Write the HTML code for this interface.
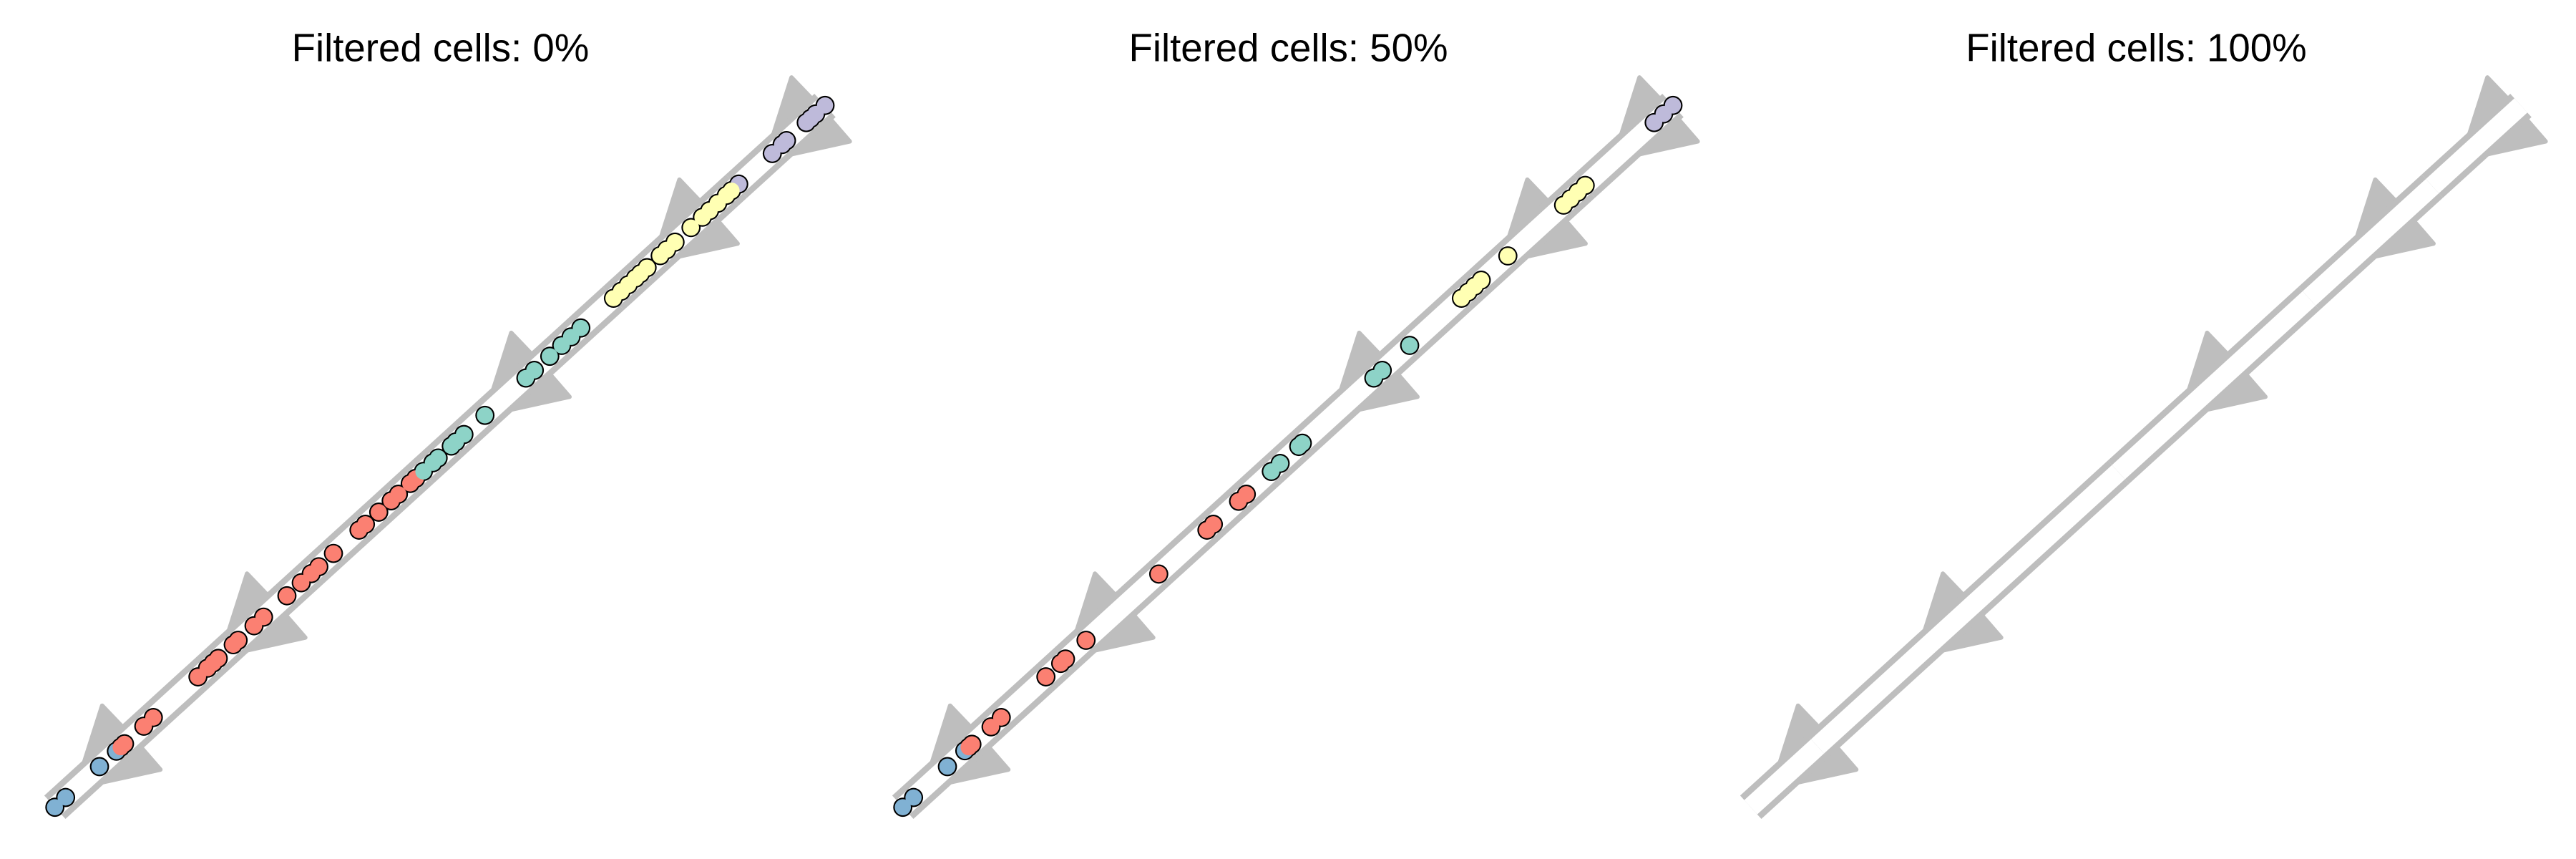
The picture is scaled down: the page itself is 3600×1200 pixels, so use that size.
<!DOCTYPE html>
<html lang="en">
<head>
<meta charset="utf-8">
<title>Filtered cells trajectory panels</title>
<style>
html,body{margin:0;padding:0;background:#fff;}
svg{display:block;}
text{font-family:"Liberation Sans",Arial,sans-serif;font-size:54.6px;fill:#000;text-anchor:middle;}
</style>
</head>
<body>
<svg id="chart" xmlns="http://www.w3.org/2000/svg" width="3600" height="1200" viewBox="0 0 3600 1200">
  <rect x="0" y="0" width="3600" height="1200" fill="#ffffff"/>
  <g id="panel-0"></g>
  <g id="panel-1"></g>
  <g id="panel-2"></g>
  <text x="615.5" y="85.7">Filtered cells: 0%</text>
  <text x="1800.5" y="85.7">Filtered cells: 50%</text>
  <text x="2985.5" y="85.7">Filtered cells: 100%</text>
</svg>
<script>
// Pseudotime (0-100) of each cell, by panel and milestone group
const panel0Blue = [0, 1.39, 5.79, 7.99];
const panel0Purple = [88.79, 93.15, 94.43, 94.99, 97.56, 98.14, 98.79, 100];
const panel0Red = [8.55, 9.04, 11.55, 12.78, 18.58, 19.82, 20.56, 21.21, 23.16, 23.79, 25.86, 27.09, 30.13, 31.99, 33.29, 34.27, 36.17, 39.49, 40.32, 42.05, 43.67, 44.6, 46.14, 46.86];
const panel0Teal = [47.85, 49.08, 49.76, 51.47, 52.06, 53.11, 55.84, 61.16, 62.25, 64.26, 65.81, 67.02, 68.29];
const panel0Yellow = [72.53, 73.52, 74.45, 75.38, 76.03, 76.89, 78.6, 79.44, 80.52, 82.6, 84.08, 85.01, 86.06, 87.18, 87.86];

const panel1Blue = [0, 1.39, 5.79, 8.05];
const panel1Purple = [97.56, 98.79, 100];
const panel1Red = [8.55, 8.97, 11.46, 12.78, 18.58, 20.5, 21.12, 23.79, 33.23, 39.49, 40.32, 43.6, 44.6];
const panel1Teal = [47.85, 48.99, 51.41, 51.87, 61.16, 62.25, 65.81];
const panel1Yellow = [72.53, 73.4, 74.25, 75.1, 78.56, 85.8, 86.71, 87.64, 88.6];

const panel2Blue = [];
const panel2Purple = [];
const panel2Red = [];
const panel2Teal = [];
const panel2Yellow = [];

// Trajectory structure, in pseudotime
const edgeBreaks = [0, 8.67, 47.75, 72.5, 88.5, 100];
const arrowTimes = [10.06, 28.87, 63.18, 85.01, 99.57];

const groupNames = ['blue', 'purple', 'red', 'teal', 'yellow'];
const groupColors = ['#80B1D3', '#BEBADA', '#FB8072', '#8DD3C7', '#FFFFB3'];
const panelCells = [
  [panel0Blue, panel0Purple, panel0Red, panel0Teal, panel0Yellow],
  [panel1Blue, panel1Purple, panel1Red, panel1Teal, panel1Yellow],
  [panel2Blue, panel2Purple, panel2Red, panel2Teal, panel2Yellow]
];

const SVG_NS = 'http://www.w3.org/2000/svg';
const PANEL_STEP = 1185;
const START_X = 76.7, START_Y = 1127.7, END_X = 1153, END_Y = 147.3;
const LENGTH = Math.hypot(END_X - START_X, END_Y - START_Y);
const UX = (END_X - START_X) / LENGTH, UY = (END_Y - START_Y) / LENGTH;
const NX = -UY, NY = UX;

function xAxis(t, panel) {
  return START_X + (END_X - START_X) * t / 100 + panel * PANEL_STEP;
}
function yAxis(t) {
  return START_Y + (END_Y - START_Y) * t / 100;
}
function arrowPoints(t, panel, side) {
  const cx = xAxis(t, panel), cy = yAxis(t);
  const shape = [[-74, 19], [-1, 19], [-2, 60.5]];
  return shape.map(function (p) {
    const x = cx + UX * p[0] + NX * p[1] * side;
    const y = cy + UY * p[0] + NY * p[1] * side;
    return x.toFixed(2) + ',' + y.toFixed(2);
  }).join(' ');
}

panelCells.forEach(function (groups, panel) {
  const root = document.getElementById('panel-' + panel);

  arrowTimes.forEach(function (t) {
    [-1, 1].forEach(function (side) {
      const arrow = document.createElementNS(SVG_NS, 'polygon');
      
      
      arrow.setAttribute('points', arrowPoints(t, panel, side));
      arrow.setAttribute('fill', '#BEBEBE');
      arrow.setAttribute('stroke', '#BEBEBE');
      arrow.setAttribute('stroke-width', '6');
      arrow.setAttribute('stroke-linejoin', 'round');
      root.appendChild(arrow);
    });
  });

  for (let i = 0; i < edgeBreaks.length - 1; i++) {
    [['#BEBEBE', 44], ['#FFFFFF', 27]].forEach(function (style, layer) {
      const edge = document.createElementNS(SVG_NS, 'line');
      
      
      edge.setAttribute('x1', xAxis(edgeBreaks[i], panel));
      edge.setAttribute('y1', yAxis(edgeBreaks[i]));
      edge.setAttribute('x2', xAxis(edgeBreaks[i + 1], panel));
      edge.setAttribute('y2', yAxis(edgeBreaks[i + 1]));
      edge.setAttribute('stroke', style[0]);
      edge.setAttribute('stroke-width', style[1]);
      root.appendChild(edge);
    });
  }

  groups.forEach(function (values) {
    values.forEach(function (t) {
      const outline = document.createElementNS(SVG_NS, 'circle');
      
      
      outline.setAttribute('cx', xAxis(t, panel));
      outline.setAttribute('cy', yAxis(t));
      outline.setAttribute('r', '13.4');
      outline.setAttribute('fill', '#000000');
      root.appendChild(outline);
    });
  });

  groups.forEach(function (values, g) {
    values.forEach(function (t) {
      const cell = document.createElementNS(SVG_NS, 'circle');
      
      
      cell.setAttribute('cx', xAxis(t, panel));
      cell.setAttribute('cy', yAxis(t));
      cell.setAttribute('r', '11.3');
      cell.setAttribute('fill', groupColors[g]);
      root.appendChild(cell);
    });
  });
});
</script>
</body>
</html>
